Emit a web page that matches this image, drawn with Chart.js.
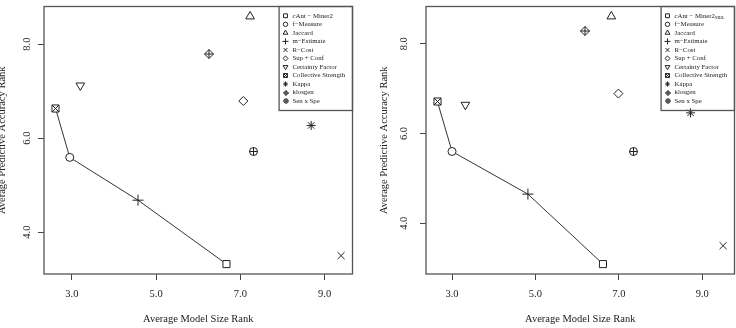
<!DOCTYPE html>
<html>
<head>
<meta charset="utf-8">
<script src="https://cdn.jsdelivr.net/npm/chart.js@4.4.1/dist/chart.umd.min.js"></script>
<style>
  html, body { margin: 0; padding: 0; background: #fff; overflow: hidden; }
  #wrap { position: relative; width: 736px; height: 328px; overflow: hidden; }
  canvas { position: absolute; top: 0; }
  #left { left: -14px; }
  #right { left: 368px; }
</style>
</head>
<body>
<div id="wrap">
  <canvas id="left" width="382" height="328"></canvas>
  <canvas id="right" width="382" height="328"></canvas>
</div>
<script>
// legend labels (same order as the value arrays)
const methodsA = ['cAnt − Miner2', 'f−Measure', 'Jaccard', 'm−Estimate', 'R−Cost', 'Sup + Conf',
  'Certainty Factor', 'Collective Strength', 'Kappa', 'klosgen', 'Sen x Spe'];
const methodsB = ['cAnt − Miner2_MDL', 'f−Measure', 'Jaccard', 'm−Estimate', 'R−Cost', 'Sup + Conf',
  'Certainty Factor', 'Collective Strength', 'Kappa', 'klosgen', 'Sen x Spe'];

// left panel
const sizeRankA = [6.67, 2.95, 7.23, 4.57, 9.39, 7.07, 3.20, 2.61, 8.68, 6.26, 7.31];
const accRankA  = [3.32, 5.59, 8.59, 4.68, 3.50, 6.79, 7.12, 6.64, 6.27, 7.80, 5.71];
// right panel
const sizeRankB = [6.62, 3.00, 6.82, 4.82, 9.50, 6.99, 3.32, 2.65, 8.72, 6.18, 7.34];
const accRankB  = [3.09, 5.60, 8.61, 4.65, 3.50, 6.89, 6.64, 6.71, 6.46, 8.28, 5.60];

// methods joined by the line (Collective Strength -> f-Measure -> m-Estimate -> cAnt-Miner2)
const frontOrder = [7, 1, 3, 0];

const xTicks = [3, 5, 7, 9];
const yTicks = [4, 6, 8];
const xTitle = 'Average Model Size Rank';
const yTitle = 'Average Predictive Accuracy Rank';

const ink = '#222';
const serif = "'Liberation Serif', 'DejaVu Serif', serif";

// R pch-like symbols
const symbols = [
  { style: 'rect', r: 5 },
  { style: 'circle', r: 4 },
  { style: 'triangle', r: 5 },
  { style: 'cross', r: 5.5 },
  { style: 'crossRot', r: 5 },
  { style: 'rectRot', r: 4.5 },
  { style: 'triangle', r: 5, rot: 180 },
  { style: 'boxX', r: 5 },
  { style: 'star', r: 4.5 },
  { style: 'diamondPlus', r: 4.5 },
  { style: 'circlePlus', r: 4 }
];
const custom = ['boxX', 'diamondPlus', 'circlePlus'];

function makeSym(kind, r) {
  const n = Math.ceil(r * 2 + 3);
  const c = document.createElement('canvas');
  c.width = n; c.height = n;
  const g = c.getContext('2d');
  const m = n / 2;
  g.strokeStyle = ink; g.fillStyle = '#fff'; g.lineWidth = 1;
  g.beginPath();
  if (kind === 'boxX') {
    const h = r * Math.SQRT1_2;
    g.rect(m - h, m - h, 2 * h, 2 * h);
    g.fill();
    g.moveTo(m - h, m - h); g.lineTo(m + h, m + h);
    g.moveTo(m + h, m - h); g.lineTo(m - h, m + h);
  } else if (kind === 'diamondPlus') {
    g.moveTo(m, m - r); g.lineTo(m + r, m); g.lineTo(m, m + r); g.lineTo(m - r, m); g.closePath();
    g.fill();
    g.moveTo(m, m - r); g.lineTo(m, m + r);
    g.moveTo(m - r, m); g.lineTo(m + r, m);
  } else {
    g.arc(m, m, r, 0, Math.PI * 2);
    g.fill();
    g.moveTo(m, m - r); g.lineTo(m, m + r);
    g.moveTo(m - r, m); g.lineTo(m + r, m);
  }
  g.stroke();
  return c;
}

function padRange(v) {
  const lo = Math.min(...v), hi = Math.max(...v), d = (hi - lo) * 0.04;
  return [lo - d, hi + d];
}

function buildDatasets(labels, xs, ys) {
  const sets = labels.map((lab, i) => {
    const s = symbols[i];
    const isCustom = custom.includes(s.style);
    return {
      label: lab,
      data: [{ x: xs[i], y: ys[i] }],
      pointStyle: isCustom ? makeSym(s.style, s.r) : s.style,
      legendStyle: isCustom ? makeSym(s.style, s.r * 0.55) : s.style,
      pointRadius: s.r,
      pointRotation: s.rot || 0,
      pointBorderColor: ink,
      pointBackgroundColor: '#fff',
      pointBorderWidth: 1,
      showLine: false,
      order: 0
    };
  });
  sets.push({
    label: 'front',
    isFront: true,
    data: frontOrder.map(i => ({ x: xs[i], y: ys[i] })),
    showLine: true,
    pointRadius: 0,
    borderColor: '#333',
    borderWidth: 1,
    order: 1
  });
  return sets;
}

const boxPlugin = {
  id: 'box',
  beforeDatasetsDraw(chart) {
    // keep the image symbols crisp
    chart.ctx.imageSmoothingEnabled = false;
  },
  afterDatasetsDraw(chart) {
    const { ctx, chartArea: a } = chart;
    ctx.save();
    ctx.strokeStyle = '#555';
    ctx.lineWidth = 1.3;
    ctx.strokeRect(a.left, a.top, a.right - a.left, a.bottom - a.top);
    ctx.restore();
  }
};

function drawLabel(ctx, text, x, y, fs) {
  const [main, sub] = text.split('_');
  let cx = x, rest = main;
  ctx.fillStyle = ink;
  ctx.textAlign = 'left';
  ctx.textBaseline = 'middle';
  if (main.startsWith('cAnt')) {
    ctx.font = `italic ${fs}px ${serif}`;
    ctx.fillText('c', cx, y);
    cx += ctx.measureText('c').width;
    rest = main.slice(1);
  }
  ctx.font = `${fs}px ${serif}`;
  ctx.fillText(rest, cx, y);
  cx += ctx.measureText(rest).width;
  if (sub) {
    ctx.font = `${fs * 0.65}px ${serif}`;
    ctx.fillText(sub, cx, y + 2);
  }
}

const legendPlugin = {
  id: 'boxLegend',
  afterDraw(chart) {
    const { ctx, chartArea: a } = chart;
    const w = 73.4, h = 104;
    const L = a.right - w, T = a.top;
    ctx.save();
    ctx.strokeStyle = '#555';
    ctx.lineWidth = 1.3;
    ctx.strokeRect(L, T, w, h);
    chart.data.datasets.filter(d => !d.isFront).forEach((d, i) => {
      const y = T + 9.3 + i * 8.53;
      ctx.strokeStyle = ink;
      ctx.fillStyle = '#fff';
      ctx.lineWidth = 1;
      Chart.helpers.drawPoint(ctx, {
        pointStyle: d.legendStyle,
        radius: d.pointRadius * 0.55,
        rotation: d.pointRotation,
        borderWidth: 1
      }, L + 6.4, y);
      drawLabel(ctx, d.label, L + 13.4, y, 6.8);
    });
    ctx.restore();
  }
};

function makeChart(id, labels, xs, ys, yTickPad) {
  const [xmin, xmax] = padRange(xs);
  const [ymin, ymax] = padRange(ys);
  const font = { family: serif, size: 10.5 };
  return new Chart(document.getElementById(id), {
    type: 'scatter',
    data: { datasets: buildDatasets(labels, xs, ys) },
    options: {
      responsive: false,
      animation: false,
      devicePixelRatio: 1,
      layout: { padding: { top: 4, right: 15.5, bottom: 0, left: 0 } },
      plugins: { legend: { display: false }, tooltip: { enabled: false } },
      scales: {
        x: {
          type: 'linear', min: xmin, max: xmax,
          afterBuildTicks: s => { s.ticks = xTicks.map(v => ({ value: v })); },
          afterFit: s => { s.height = 54; s.paddingLeft = 0; s.paddingRight = 0; },
          ticks: { callback: v => v.toFixed(1), color: ink, font, padding: 7.5, maxRotation: 0, autoSkip: false },
          grid: { drawOnChartArea: false, tickLength: 6, color: '#444', lineWidth: 1 },
          border: { display: false },
          title: { display: true, text: xTitle, color: ink, font, padding: { top: 0, bottom: 2.7 } }
        },
        y: {
          type: 'linear', min: ymin, max: ymax,
          afterBuildTicks: s => { s.ticks = yTicks.map(v => ({ value: v })); },
          afterFit: s => { s.width = 58; s.paddingTop = 0; s.paddingBottom = 0; },
          ticks: { callback: v => v.toFixed(1), color: ink, font, padding: yTickPad, minRotation: 90, crossAlign: 'center', autoSkip: false },
          grid: { drawOnChartArea: false, tickLength: 6, color: '#444', lineWidth: 1 },
          border: { display: false },
          title: { display: true, text: yTitle, color: ink, font, padding: { top: 9.7, bottom: 0 } }
        }
      }
    },
    plugins: [boxPlugin, legendPlugin]
  });
}

makeChart('left', methodsA, sizeRankA, accRankA, 4.4);
makeChart('right', methodsB, sizeRankB, accRankB, 8.7);
</script>
</body>
</html>
